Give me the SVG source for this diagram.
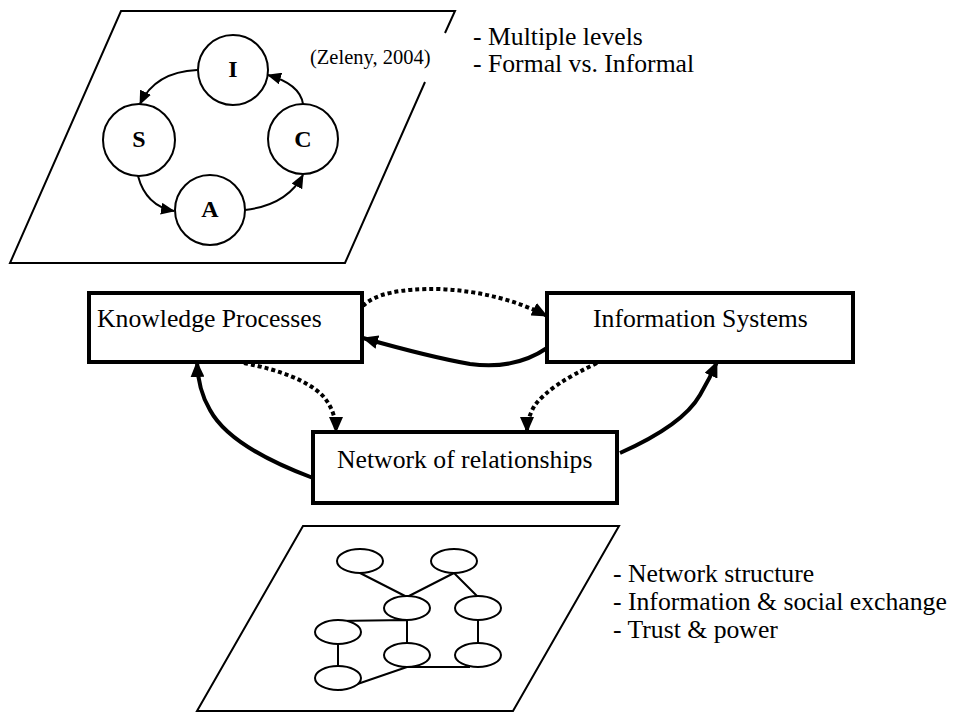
<svg xmlns="http://www.w3.org/2000/svg" width="953" height="713" viewBox="0 0 953 713">
<style>
.t{font-family:"Liberation Serif","Times New Roman",serif;font-size:25.7px;fill:#000}
.z{font-family:"Liberation Serif","Times New Roman",serif;font-size:20.5px;fill:#000}
.b{font-family:"Liberation Serif","Times New Roman",serif;font-size:24px;font-weight:bold;fill:#000;text-anchor:middle}
.pl{fill:none;stroke:#000;stroke-width:2}
.box{fill:#fff;stroke:#000;stroke-width:4}
.c{fill:#fff;stroke:#000;stroke-width:2}
.e{fill:#fff;stroke:#000;stroke-width:2}
.l{stroke:#000;stroke-width:2;fill:none}
.sa{fill:none;stroke:#000;stroke-width:2;marker-end:url(#ms)}
.th{fill:none;stroke:#000;stroke-width:4;marker-end:url(#ml)}
.dt{fill:none;stroke:#000;stroke-width:4;stroke-dasharray:4 3;marker-end:url(#ml)}
</style>
<defs>
<marker id="ms" markerUnits="userSpaceOnUse" viewBox="0 0 14 12" refX="13" refY="6" markerWidth="14" markerHeight="12" orient="auto"><path d="M0,0 L14,6 L0,12 z" fill="#000"/></marker>
<marker id="ml" markerUnits="userSpaceOnUse" viewBox="0 0 16 14" refX="15" refY="7" markerWidth="16" markerHeight="14" orient="auto"><path d="M0,0 L16,7 L0,14 z" fill="#000"/></marker>
</defs>
<rect width="953" height="713" fill="#fff"/>
<g id="plane-top">
<path class="pl" d="M445,33 L455,11 L121,11 L10,263 L345,263 L425,82"/>
<text class="z" x="310" y="64">(Zeleny, 2004)</text>
</g>
<g id="cycle-connectors">
<path class="sa" d="M197,70 Q155,72 140,104"/>
<path class="sa" d="M138,176 Q146,206 174,211"/>
<path class="sa" d="M245,210 Q287,205 303,175"/>
<path class="sa" d="M303,104 Q300,84 268,75"/>
</g>
<g id="node-I"><circle class="c" cx="233" cy="70" r="35"/><text class="b" x="233" y="77">I</text></g>
<g id="node-S"><circle class="c" cx="139" cy="140" r="36"/><text class="b" x="139" y="147">S</text></g>
<g id="node-C"><circle class="c" cx="303" cy="139" r="35"/><text class="b" x="303" y="147">C</text></g>
<g id="node-A"><circle class="c" cx="210" cy="210" r="35"/><text class="b" x="210" y="217">A</text></g>
<g id="notes-top">
<text class="t" x="473" y="45">- Multiple levels</text>
<text class="t" x="473" y="72">- Formal vs. Informal</text>
</g>
<g id="connectors">
<path class="dt" d="M363,306 Q380,288 440,289 Q500,292 547,316"/>
<path class="th" d="M547,348 Q515,370 470,364 Q430,357 363,338"/>
<path class="dt" d="M244,363 Q300,374 322,395 Q336,410 336,432"/>
<path class="dt" d="M597,363 Q550,385 535,405 Q527,418 527,432"/>
<path class="th" d="M313,478 Q230,447 210,410 Q198,390 197,362"/>
<path class="th" d="M620,453 Q683,425 700,395 Q710,378 717,362"/>
</g>
<g id="node-kp"><rect class="box" x="89" y="293" width="273" height="69"/><text class="t" x="97" y="327">Knowledge Processes</text></g>
<g id="node-is"><rect class="box" x="547" y="293" width="306" height="69"/><text class="t" x="593" y="327">Information Systems</text></g>
<g id="node-nr"><rect class="box" x="313" y="432" width="304" height="71"/><text class="t" x="337" y="468">Network of relationships</text></g>
<g id="plane-bottom">
<path class="pl" d="M303,526 L619,526 L513,711 L197,711 Z"/>
<g id="net-edges">
<path class="l" d="M360,573 L407,597 M454,573 L407,597 M454,573 L477,596 M407,620 L336,621 M407,620 L407,644 M478,620 L478,644 M338,644 L338,667 M407,667 L470,667 M407,667 L340,690"/>
</g>
<ellipse class="e" cx="360" cy="561" rx="23" ry="12"/>
<ellipse class="e" cx="454" cy="561" rx="23" ry="12"/>
<ellipse class="e" cx="407" cy="608" rx="23" ry="12"/>
<ellipse class="e" cx="478" cy="608" rx="23" ry="12"/>
<ellipse class="e" cx="338" cy="632" rx="23" ry="12"/>
<ellipse class="e" cx="407" cy="655" rx="23" ry="12"/>
<ellipse class="e" cx="478" cy="655" rx="23" ry="12"/>
<ellipse class="e" cx="338" cy="678" rx="23" ry="12"/>
</g>
<g id="notes-bottom">
<text class="t" x="613" y="582">- Network structure</text>
<text class="t" x="613" y="610">- Information &amp; social exchange</text>
<text class="t" x="613" y="638">- Trust &amp; power</text>
</g>
</svg>
